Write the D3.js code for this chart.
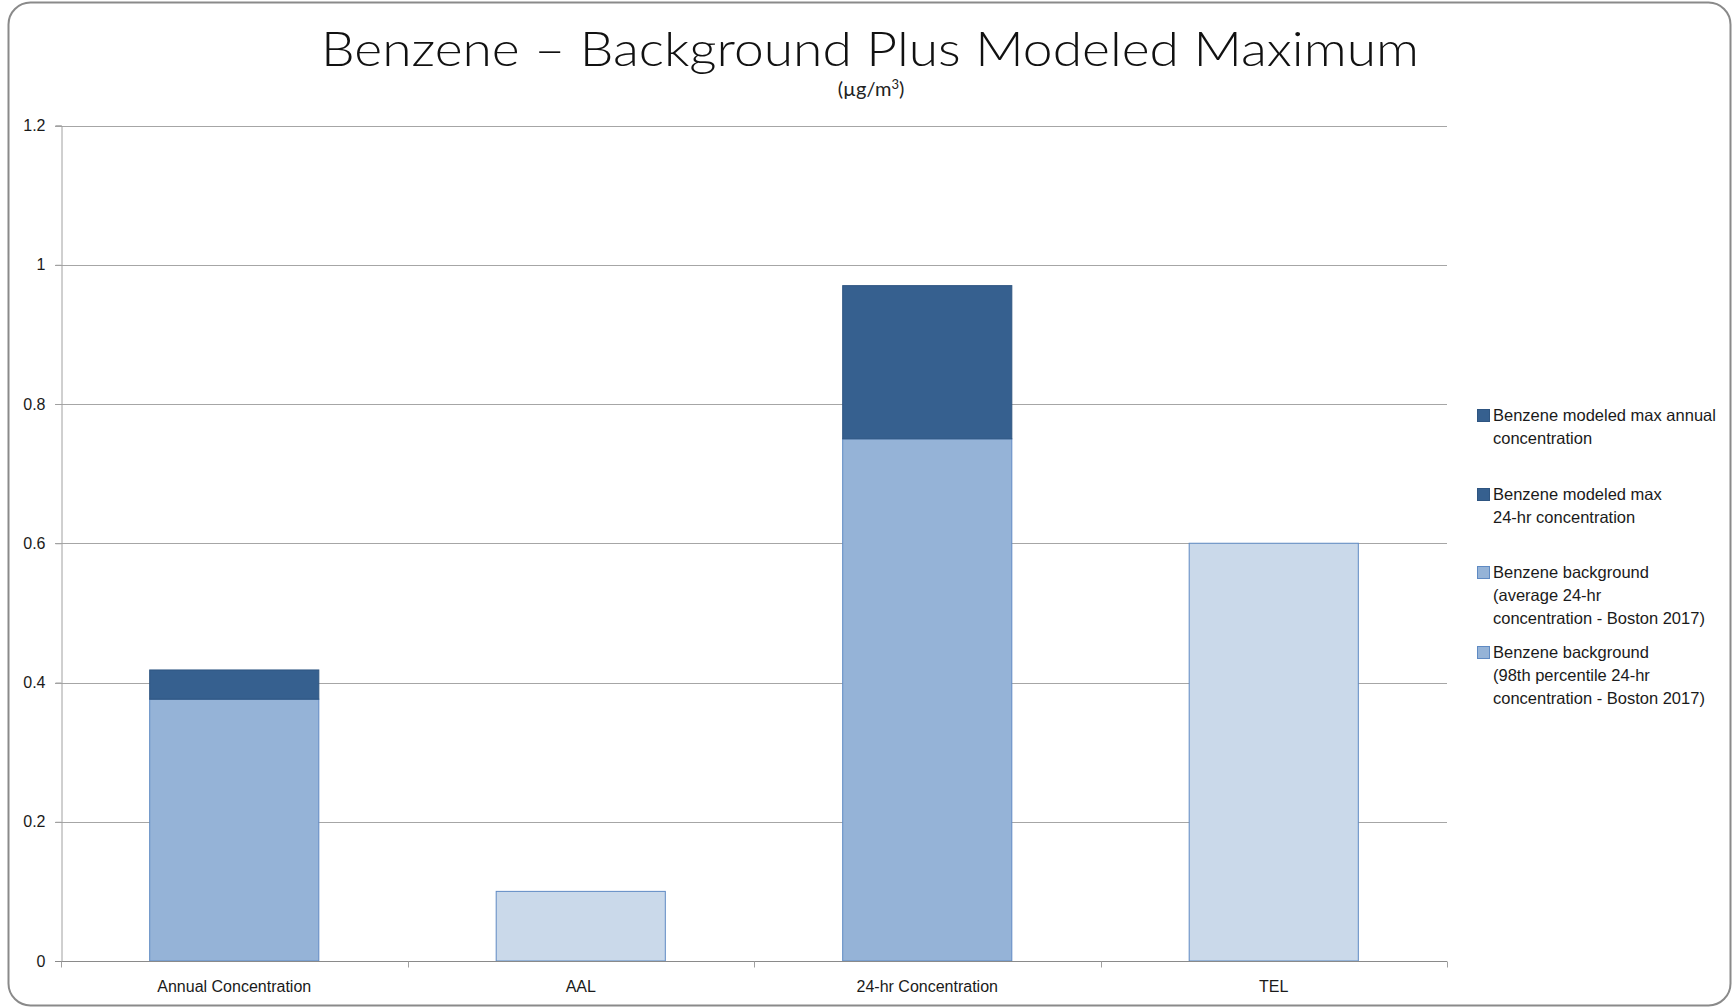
<!DOCTYPE html>
<html><head><meta charset="utf-8">
<script src="https://cdn.jsdelivr.net/npm/d3@7"></script>
<style>
html,body{margin:0;padding:0;background:#fff;}
svg{display:block;}
</style></head>
<body>
<svg id="chart" width="1732" height="1008"></svg>
<script>
// ---- data ----
const categories = ["Annual Concentration", "AAL", "24-hr Concentration", "TEL"];
const modeledMaxAnnual = [0.042, 0, 0, 0];
const modeledMax24hr = [0, 0, 0.22, 0];
const backgroundAvg24hr = [0.376, 0, 0, 0];
const background98th24hr = [0, 0, 0.75, 0];
const guidelineLimits = [0, 0.1, 0, 0.6];
const yTicks = [0, 0.2, 0.4, 0.6, 0.8, 1, 1.2];
const legendLabels = [
  ["Benzene modeled max annual", "concentration"],
  ["Benzene modeled max", "24-hr concentration"],
  ["Benzene background", "(average 24-hr", "concentration - Boston 2017)"],
  ["Benzene background", "(98th percentile 24-hr", "concentration - Boston 2017)"]
];
const titleText = "Benzene \u2013 Background Plus Modeled Maximum";

// ---- styles ----
const C_DARK = "#36608F", C_MED = "#95B3D7", C_LIGHT = "#CAD9EA";
const S_DARK = "#2E5581", S_MED = "#5F8AC3";

const svg = d3.select("#chart");
// outer rounded border
svg.append("rect").attr("x", 8.5).attr("y", 2.5).attr("width", 1722).attr("height", 1003)
  .attr("rx", 22).attr("fill", "#fff").attr("stroke", "#8a8a8a").attr("stroke-width", 2);

const pLeft = 61, pRight = 1447, pTop = 125.5, pBottom = 961;
const x = d3.scaleBand().domain(categories).range([pLeft, pRight]).paddingInner(0.509).paddingOuter(0.2545);
const y = d3.scaleLinear().domain([0, 1.2]).range([pBottom, pTop]);

// gridlines
svg.append("g").selectAll("line").data(yTicks.filter(d => d > 0)).join("line")
  .attr("x1", pLeft - 6).attr("x2", pRight)
  .attr("y1", d => Math.round(y(d)) + 0.5).attr("y2", d => Math.round(y(d)) + 0.5)
  .attr("stroke", "#a6a6a6").attr("stroke-width", 1);

// y axis
const yAxis = svg.append("g").attr("transform", `translate(${pLeft + 0.5},0)`)
  .call(d3.axisLeft(y).tickValues(yTicks).tickSize(6).tickPadding(10).tickFormat(d => d3.format("")(d)));
yAxis.select(".domain").attr("stroke", "#a0a0a0");
yAxis.selectAll(".tick line").attr("stroke", "#a0a0a0");
yAxis.selectAll("text").attr("font-family", "'Liberation Sans', Arial, sans-serif").attr("font-size", 16).attr("fill", "#1a1a1a");

// bars
const stackSeries = [
  {vals: backgroundAvg24hr, fill: C_MED, stroke: S_MED, base: null},
  {vals: background98th24hr, fill: C_MED, stroke: S_MED, base: null},
  {vals: guidelineLimits, fill: C_LIGHT, stroke: S_MED, base: null},
  {vals: modeledMaxAnnual, fill: C_DARK, stroke: S_DARK, base: backgroundAvg24hr},
  {vals: modeledMax24hr, fill: C_DARK, stroke: S_DARK, base: background98th24hr}
];
stackSeries.forEach(s => {
  const rows = categories.map((c, i) => ({c, v: s.vals[i], b: s.base ? s.base[i] : 0})).filter(r => r.v > 0);
  svg.append("g").selectAll("rect").data(rows).join("rect")
    .attr("x", r => x(r.c) + 0.5)
    .attr("width", x.bandwidth() - 1)
    .attr("y", r => y(r.b + r.v))
    .attr("height", r => y(r.b) - y(r.b + r.v))
    .attr("fill", s.fill).attr("stroke", s.stroke).attr("stroke-width", 1);
});

// x axis
const xg = svg.append("g").attr("transform", `translate(0,${pBottom + 0.5})`);
xg.append("line").attr("x1", pLeft - 6).attr("x2", pRight).attr("y1", 0).attr("y2", 0).attr("stroke", "#8a8a8a");
const boundaries = [pLeft].concat(categories.map(c => x(c) + x.bandwidth() / 2 + x.step() / 2));
xg.selectAll("line.tk").data(boundaries).join("line").attr("class", "tk")
  .attr("x1", d => Math.round(d) + 0.5).attr("x2", d => Math.round(d) + 0.5).attr("y1", 0).attr("y2", 6)
  .attr("stroke", "#a0a0a0");
xg.selectAll("text").data(categories).join("text")
  .attr("x", d => x(d) + x.bandwidth() / 2).attr("y", 30)
  .attr("text-anchor", "middle")
  .attr("font-family", "'Liberation Sans', Arial, sans-serif").attr("font-size", 16).attr("fill", "#1a1a1a")
  .text(d => d);

// title
svg.append("text").attr("x", 870).attr("y", 66).attr("text-anchor", "middle")
  .attr("font-family", "'Lato', 'Open Sans', sans-serif").attr("font-weight", 300).attr("font-size", 47)
  .attr("fill", "#111").attr("textLength", 1098).attr("lengthAdjust", "spacingAndGlyphs")
  .text(titleText);
const sub = svg.append("text").attr("x", 871).attr("y", 96).attr("text-anchor", "middle")
  .attr("font-family", "'Lato', 'Open Sans', sans-serif").attr("font-weight", 400).attr("font-size", 20)
  .attr("fill", "#222");
sub.append("tspan").text("(\u00b5g/m");
sub.append("tspan").attr("dy", -7).attr("font-size", 13).text("3");
sub.append("tspan").attr("dy", 7).text(")");

// legend
const legendColors = [[C_DARK, S_DARK], [C_DARK, S_DARK], [C_MED, S_MED], [C_MED, S_MED]];
const legendY = [421, 500, 578, 658];
legendLabels.forEach((lines, i) => {
  const g = svg.append("g");
  g.append("rect").attr("x", 1477.5).attr("y", legendY[i] - 11.5).attr("width", 12).attr("height", 12)
    .attr("fill", legendColors[i][0]).attr("stroke", legendColors[i][1]);
  const t = g.append("text").attr("font-family", "'Liberation Sans', Arial, sans-serif").attr("font-size", 16.5).attr("fill", "#1a1a1a");
  lines.forEach((ln, j) => {
    t.append("tspan").attr("x", 1493).attr("y", legendY[i] + j * 23).text(ln);
  });
});
</script>
</body></html>
